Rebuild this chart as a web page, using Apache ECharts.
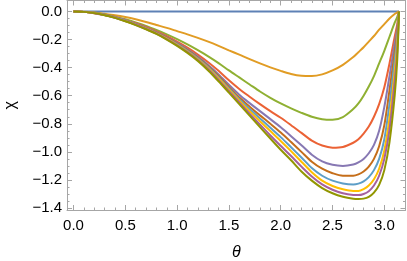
<!DOCTYPE html>
<html>
<head>
<meta charset="utf-8">
<script src="https://cdn.jsdelivr.net/npm/echarts@6/dist/echarts.min.js"></script>
<style>
html,body{margin:0;padding:0;background:#fff;}
#chart{width:407px;height:261px;}
</style>
</head>
<body>
<div id="chart"></div>
<script>
// theta sample positions
const theta = [0, 0.1, 0.2, 0.3, 0.4, 0.5, 0.6, 0.7, 0.8, 0.9, 1.0, 1.1, 1.2, 1.3, 1.4, 1.5, 1.6, 1.7, 1.8, 1.9,
  2.0, 2.1, 2.2, 2.3, 2.4, 2.5, 2.6, 2.7, 2.75, 2.8, 2.85, 2.9, 2.95, 3.0, 3.05, 3.1, 3.125, 3.1416];
// chi values for each curve
const chi1  = [0, 0, 0, 0, 0, 0, 0, 0, 0, 0, 0, 0, 0, 0, 0, 0, 0, 0, 0, 0, 0, 0, 0, 0, 0, 0, 0, 0, 0, 0, 0, 0, 0, 0, 0, 0, 0, 0];
const chi2  = [0, -0.002, -0.008, -0.017, -0.027, -0.04, -0.056, -0.075, -0.096, -0.117, -0.14, -0.163, -0.188, -0.215, -0.245, -0.277, -0.308, -0.34, -0.37, -0.398,
  -0.423, -0.445, -0.458, -0.46, -0.448, -0.42, -0.38, -0.325, -0.29, -0.255, -0.215, -0.175, -0.13, -0.09, -0.05, -0.018, -0.007, 0];
const chi3  = [0, -0.003, -0.01, -0.022, -0.037, -0.056, -0.078, -0.103, -0.132, -0.163, -0.197, -0.235, -0.276, -0.32, -0.368, -0.42, -0.47, -0.52, -0.57, -0.615,
  -0.655, -0.69, -0.722, -0.75, -0.768, -0.772, -0.752, -0.695, -0.655, -0.6, -0.535, -0.46, -0.37, -0.28, -0.18, -0.08, -0.038, 0];
const chi4  = [0, -0.003, -0.011, -0.023, -0.039, -0.06, -0.084, -0.111, -0.142, -0.176, -0.215, -0.258, -0.307, -0.362, -0.423, -0.49, -0.552, -0.607, -0.66, -0.71,
  -0.757, -0.81, -0.865, -0.92, -0.955, -0.97, -0.965, -0.935, -0.91, -0.87, -0.82, -0.75, -0.66, -0.54, -0.37, -0.18, -0.09, 0];
const chi5  = [0, -0.003, -0.011, -0.024, -0.041, -0.063, -0.088, -0.116, -0.148, -0.183, -0.224, -0.27, -0.322, -0.382, -0.448, -0.522, -0.593, -0.653, -0.71, -0.767,
  -0.825, -0.888, -0.953, -1.02, -1.068, -1.092, -1.10, -1.09, -1.075, -1.05, -1.01, -0.95, -0.85, -0.68, -0.46, -0.23, -0.12, 0];
const chi6  = [0, -0.003, -0.011, -0.025, -0.042, -0.065, -0.09, -0.119, -0.151, -0.187, -0.229, -0.275, -0.328, -0.39, -0.46, -0.537, -0.613, -0.678, -0.74, -0.8,
  -0.862, -0.93, -1.0, -1.07, -1.12, -1.152, -1.17, -1.17, -1.16, -1.14, -1.105, -1.05, -0.96, -0.81, -0.56, -0.29, -0.15, 0];
const chi7  = [0, -0.003, -0.011, -0.025, -0.043, -0.066, -0.092, -0.121, -0.154, -0.191, -0.233, -0.28, -0.334, -0.398, -0.47, -0.548, -0.625, -0.695, -0.762, -0.828,
  -0.895, -0.967, -1.04, -1.115, -1.17, -1.205, -1.225, -1.232, -1.226, -1.21, -1.18, -1.13, -1.05, -0.91, -0.66, -0.35, -0.18, 0];
const chi8  = [0, -0.003, -0.012, -0.026, -0.044, -0.068, -0.094, -0.123, -0.156, -0.194, -0.237, -0.285, -0.34, -0.405, -0.478, -0.557, -0.635, -0.71, -0.782, -0.852,
  -0.922, -0.995, -1.07, -1.145, -1.205, -1.243, -1.266, -1.278, -1.278, -1.265, -1.24, -1.195, -1.12, -0.99, -0.76, -0.43, -0.23, 0];
const chi9  = [0, -0.003, -0.012, -0.026, -0.045, -0.069, -0.095, -0.125, -0.158, -0.197, -0.241, -0.29, -0.346, -0.412, -0.487, -0.567, -0.648, -0.728, -0.806, -0.883,
  -0.957, -1.03, -1.105, -1.175, -1.232, -1.27, -1.295, -1.307, -1.308, -1.30, -1.28, -1.24, -1.17, -1.05, -0.84, -0.5, -0.28, 0];
const chi10 = [0, -0.003, -0.012, -0.027, -0.046, -0.07, -0.097, -0.127, -0.16, -0.2, -0.245, -0.295, -0.352, -0.42, -0.497, -0.578, -0.66, -0.742, -0.824, -0.905,
  -0.985, -1.06, -1.14, -1.205, -1.258, -1.295, -1.32, -1.334, -1.336, -1.333, -1.32, -1.29, -1.235, -1.13, -0.93, -0.6, -0.34, 0];
const curves = [chi1, chi2, chi3, chi4, chi5, chi6, chi7, chi8, chi9, chi10];
const colors = ['#5E81B5', '#E19C24', '#8FB032', '#EB6235', '#8778B3', '#C56E1A', '#5D9EC7', '#FFBF00', '#A5609D', '#929600'];
// tick labels
const xTicks = [0, 0.5, 1.0, 1.5, 2.0, 2.5, 3.0];
const yTicks = [0, -0.2, -0.4, -0.6, -0.8, -1.0, -1.2, -1.4];
const xMinor = [];
for (let i = 0; i <= 32; i++) { const v = +(i * 0.1).toFixed(2); if (Math.abs(v / 0.5 - Math.round(v / 0.5)) > 1e-6) xMinor.push(v); }
const yMinor = [];
for (let i = 0; i <= 28; i++) { const v = +(-i * 0.05).toFixed(2); if (Math.abs(v / 0.2 - Math.round(v / 0.2)) > 1e-6) yMinor.push(v); }

const X_MIN = -0.0628, X_MAX = 3.2044, Y_MIN = -1.414, Y_MAX = 0.078;
const frameColor = '#a6a6a6';
const fontFamily = 'Liberation Sans, Arial, sans-serif';
const fmt = v => (Math.abs(v) < 1e-9 ? '0.0' : (v < 0 ? '\u2212' : '') + Math.abs(v).toFixed(1));

function xAxisDef(pos, ticks, len, showLabel, showLine, extra) {
  return Object.assign({
    type: 'value', min: X_MIN, max: X_MAX, position: pos,
    axisLine: { show: showLine, onZero: false, lineStyle: { color: frameColor, width: 1 } },
    axisTick: { show: true, inside: true, length: len, customValues: ticks, lineStyle: { color: frameColor, width: 1 } },
    axisLabel: { show: showLabel, customValues: ticks, formatter: fmt, color: '#000', fontSize: 15, fontFamily: fontFamily, margin: 8 },
    splitLine: { show: false }
  }, extra || {});
}
function yAxisDef(pos, ticks, len, showLabel, showLine, extra) {
  return Object.assign({
    type: 'value', min: Y_MIN, max: Y_MAX, position: pos,
    axisLine: { show: showLine, onZero: false, lineStyle: { color: frameColor, width: 1 } },
    axisTick: { show: true, inside: true, length: len, customValues: ticks, lineStyle: { color: frameColor, width: 1 } },
    axisLabel: { show: showLabel, customValues: ticks, formatter: fmt, color: '#000', fontSize: 15, fontFamily: fontFamily, margin: 5 },
    splitLine: { show: false }
  }, extra || {});
}

const chart = echarts.init(document.getElementById('chart'), null, { renderer: 'canvas' });
chart.setOption({
  animation: false,
  backgroundColor: '#fff',
  grid: { left: 67, right: 1.5, top: 0.5, bottom: 51, containLabel: false, outerBoundsMode: 'none' },
  xAxis: [
    xAxisDef('bottom', xTicks, 5, true, true, {
      name: '\u03b8', nameLocation: 'middle', nameGap: 35,
      nameTextStyle: { fontSize: 16, fontStyle: 'italic', fontFamily: fontFamily, color: '#000' }
    }),
    xAxisDef('bottom', xMinor, 2.5, false, false),
    xAxisDef('top', xTicks, 5, false, true),
    xAxisDef('top', xMinor, 2.5, false, false)
  ],
  yAxis: [
    yAxisDef('left', yTicks, 5, true, true, {
      name: '\u03c7', nameLocation: 'middle', nameGap: 48, nameRotate: 90,
      nameTextStyle: { fontSize: 16, fontFamily: fontFamily, color: '#000' }
    }),
    yAxisDef('left', yMinor, 2.5, false, false),
    yAxisDef('right', yTicks, 5, false, true),
    yAxisDef('right', yMinor, 2.5, false, false)
  ],
  series: curves.map((c, k) => ({
    type: 'line',
    xAxisIndex: 0, yAxisIndex: 0,
    data: theta.map((t, i) => [t, c[i]]),
    showSymbol: false,
    smooth: 0.3,
    lineStyle: { color: colors[k], width: 2 },
    itemStyle: { color: colors[k] },
    z: 2 + k
  }))
});
</script>
</body>
</html>
